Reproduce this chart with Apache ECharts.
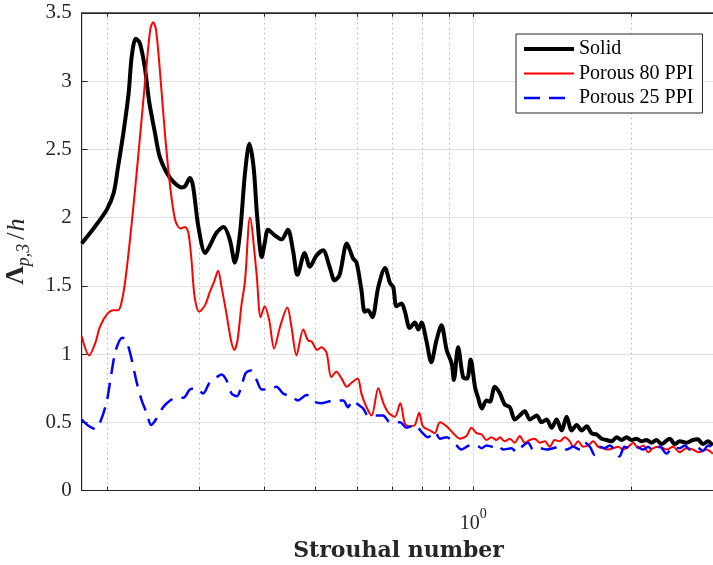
<!DOCTYPE html>
<html><head><meta charset="utf-8">
<script src="https://cdn.jsdelivr.net/npm/echarts@6/dist/echarts.min.js"></script>
<style>html,body{margin:0;padding:0;background:#fff}#c{width:713px;height:565px}</style>
</head><body><div id="c"></div>
<script>
// Strouhal numbers and values
const solidSt = [0.179,0.186,0.192,0.200,0.206,0.210,0.215,0.220,0.223,0.227,
0.231,0.236,0.241,0.247,0.252,0.260,0.268,0.278,0.282,0.288,
0.292,0.299,0.308,0.314,0.324,0.334,0.343,0.351,0.359,0.367,
0.374,0.381,0.387,0.395,0.400,0.406,0.418,0.431,0.443,0.453,
0.462,0.477,0.488,0.502,0.517,0.532,0.544,0.556,0.574,0.590,
0.599,0.612,0.621,0.630,0.642,0.659,0.679,0.694,0.704,0.714,
0.730,0.741,0.757,0.774,0.786,0.797,0.814,0.832,0.851,0.870,
0.890,0.910,0.919,0.936,0.957,0.974,0.989,1.008,1.022,1.039,
1.060,1.076,1.100,1.125,1.149,1.175,1.201,1.227,1.255,1.283,
1.322,1.351,1.381,1.412,1.443,1.475,1.508,1.542,1.576,1.611,
1.647,1.683,1.721,1.759,1.798,1.838,1.879,1.921,1.963,2.006,
2.051,2.096,2.143,2.190,2.238,2.288,2.373,2.425,2.480,2.553,
2.627,2.685,2.745,2.806,2.865];
const solidVal = [1.81,1.89,1.96,2.06,2.18,2.37,2.62,2.91,3.18,3.31,
3.28,3.11,2.84,2.62,2.45,2.33,2.26,2.22,2.23,2.29,
2.23,1.93,1.74,1.79,1.89,1.93,1.84,1.67,1.89,2.33,
2.54,2.37,2.01,1.71,1.81,1.91,1.87,1.84,1.91,1.76,
1.58,1.74,1.64,1.72,1.76,1.64,1.54,1.58,1.81,1.70,
1.67,1.47,1.31,1.32,1.27,1.49,1.63,1.52,1.49,1.35,
1.37,1.31,1.19,1.23,1.18,1.23,1.10,0.94,1.10,1.21,
1.03,0.93,0.81,1.05,0.83,0.82,0.96,0.76,0.68,0.60,
0.66,0.65,0.76,0.71,0.63,0.61,0.52,0.55,0.58,0.52,
0.55,0.50,0.52,0.46,0.52,0.44,0.54,0.44,0.48,0.44,
0.47,0.42,0.41,0.38,0.37,0.36,0.39,0.37,0.39,0.37,
0.38,0.36,0.37,0.35,0.37,0.34,0.38,0.34,0.36,0.35,
0.37,0.375,0.34,0.36,0.33];

const p80St = [0.179,0.185,0.190,0.194,0.200,0.206,0.210,0.213,0.217,0.224,
0.231,0.238,0.242,0.245,0.248,0.252,0.258,0.264,0.270,0.276,
0.282,0.286,0.290,0.294,0.300,0.308,0.314,0.321,0.326,0.331,
0.338,0.345,0.350,0.355,0.361,0.367,0.375,0.386,0.393,0.400,
0.408,0.417,0.428,0.442,0.450,0.460,0.474,0.484,0.492,0.504,
0.513,0.525,0.536,0.548,0.561,0.574,0.586,0.602,0.612,0.626,
0.640,0.659,0.674,0.689,0.709,0.726,0.741,0.757,0.774,0.789,
0.802,0.827,0.845,0.864,0.890,0.916,0.943,0.971,0.993,1.015,
1.038,1.060,1.084,1.108,1.125,1.149,1.175,1.201,1.227,1.255,
1.283,1.310,1.340,1.370,1.400,1.431,1.463,1.496,1.529,1.552,
1.587,1.622,1.658,1.695,1.733,1.771,1.810,1.850,1.892,1.934,
1.977,2.021,2.066,2.112,2.159,2.207,2.272,2.340,2.408,2.480,
2.553,2.627,2.699,2.786,2.868];
const p80Val = [1.13,0.99,1.08,1.20,1.29,1.32,1.32,1.37,1.55,2.03,
2.57,3.11,3.38,3.43,3.38,3.11,2.62,2.23,1.98,1.92,
1.93,1.89,1.69,1.42,1.31,1.36,1.45,1.54,1.61,1.49,
1.30,1.10,1.03,1.10,1.35,1.54,2.00,1.59,1.27,1.35,
1.25,1.04,1.20,1.34,1.20,0.99,1.18,1.10,1.09,1.03,
1.05,1.01,0.83,0.87,0.82,0.76,0.79,0.82,0.71,0.61,
0.55,0.75,0.64,0.57,0.54,0.64,0.49,0.47,0.48,0.57,
0.47,0.44,0.42,0.50,0.47,0.42,0.38,0.40,0.46,0.42,
0.41,0.37,0.39,0.37,0.39,0.36,0.38,0.35,0.40,0.35,
0.37,0.38,0.35,0.36,0.32,0.37,0.36,0.39,0.36,0.32,
0.36,0.32,0.33,0.36,0.32,0.31,0.30,0.31,0.32,0.30,
0.32,0.35,0.31,0.33,0.28,0.31,0.32,0.30,0.32,0.28,
0.31,0.30,0.28,0.30,0.27];

const p25St = [0.179,0.185,0.190,0.195,0.200,0.204,0.208,0.214,0.218,0.223,
0.228,0.233,0.238,0.243,0.248,0.256,0.264,0.272,0.280,0.288,
0.297,0.305,0.314,0.324,0.331,0.338,0.346,0.354,0.361,0.368,
0.377,0.386,0.395,0.406,0.421,0.434,0.450,0.463,0.481,0.499,
0.513,0.528,0.548,0.565,0.577,0.589,0.603,0.617,0.630,0.654,
0.673,0.694,0.725,0.746,0.774,0.797,0.820,0.845,0.864,0.890,
0.916,0.950,0.971,0.986,1.015,1.038,1.060,1.092,1.116,1.141,
1.184,1.210,1.246,1.273,1.302,1.340,1.381,1.421,1.463,1.508,
1.552,1.599,1.634,1.670,1.707,1.744,1.783,1.822,1.862,1.903,
1.945,1.988,2.051,2.111,2.158,2.206,2.272,2.340,2.409,2.480,
2.535,2.591,2.668,2.746,2.809,2.868];
const p25Val = [0.52,0.47,0.45,0.52,0.66,0.86,1.03,1.12,1.09,0.96,
0.79,0.66,0.57,0.48,0.52,0.61,0.66,0.68,0.68,0.74,
0.75,0.71,0.79,0.83,0.85,0.81,0.71,0.69,0.76,0.86,
0.88,0.81,0.74,0.74,0.76,0.71,0.69,0.66,0.70,0.65,
0.64,0.65,0.66,0.66,0.61,0.66,0.63,0.60,0.55,0.55,
0.55,0.50,0.50,0.46,0.48,0.43,0.39,0.43,0.38,0.39,
0.36,0.30,0.32,0.33,0.33,0.31,0.33,0.32,0.33,0.30,
0.31,0.28,0.33,0.35,0.30,0.31,0.30,0.31,0.32,0.30,
0.32,0.30,0.35,0.32,0.26,0.32,0.31,0.33,0.30,0.25,
0.32,0.31,0.32,0.30,0.32,0.29,0.32,0.27,0.32,0.31,
0.33,0.30,0.32,0.29,0.33,0.31];

const seriesNames = ['Solid', 'Porous 80 PPI', 'Porous 25 PPI'];
const xRange = [0.179, 2.9];          // Strouhal number range of the axis
const gridSt = [0.2,0.3,0.4,0.5,0.6,0.7,0.8,0.9,1,2,3]; // log-axis grid positions
const majorSt = [1];                 // labelled decade
const yRange = [0, 3.5];
const yStep = 0.5;

const lg = v => Math.log10(v);
const toPts = (st, val) => st.map((s, i) => [lg(s), val[i]]);
const gridLog = gridSt.map(lg);
const majorLog = majorSt.map(lg);
const ink = '#262626';
const serif = 'Liberation Serif';
const styles = [
  {color: '#000000', width: 4, type: 'solid'},
  {color: '#ff0000', width: 2, type: 'solid'},
  {color: '#0000ff', width: 2.5, type: [16, 9]}
];

const chart = echarts.init(document.getElementById('c'), null, {renderer: 'canvas'});
const baseX = {
  type: 'value', min: lg(xRange[0]), max: lg(xRange[1]), gridIndex: 0
};
chart.setOption({
  animation: false,
  backgroundColor: '#fff',
  grid: {left: 81.7, top: 12.8, width: 633.7, height: 477.7, show: true,
         containLabel: false, outerBoundsMode: 'none',
         borderColor: ink, borderWidth: 1, backgroundColor: 'transparent'},
  legend: {
    data: seriesNames.map((n, i) => ({name: n, lineStyle: {width: styles[i].width, type: styles[i].type, color: styles[i].color}})),
    orient: 'vertical', left: 516, top: 34,
    padding: [5, 9, 5, 6], itemWidth: 50, itemHeight: 14, itemGap: 4.5,
    backgroundColor: '#fff', borderColor: ink, borderWidth: 1,
    itemStyle: {opacity: 0},
    textStyle: {fontFamily: serif, fontSize: 20, color: '#000', lineHeight: 20}
  },
  xAxis: [
    Object.assign({}, baseX, {
      position: 'bottom',
      name: 'Strouhal number', nameLocation: 'middle', nameGap: 50,
      nameTextStyle: {fontFamily: 'DejaVu Serif', fontWeight: 'bold', fontSize: 22, color: ink},
      axisLine: {show: true, onZero: false, lineStyle: {color: ink, width: 1}},
      axisTick: {show: true, inside: true, length: 4, customValues: gridLog, lineStyle: {color: ink}},
      axisLabel: {show: true, customValues: majorLog, margin: 17,
        formatter: () => '{b|10}{s|0}',
        rich: {b: {fontFamily: serif, fontSize: 20, color: ink, lineHeight: 26, verticalAlign: 'bottom'},
               s: {fontFamily: serif, fontSize: 14, color: ink, lineHeight: 26, verticalAlign: 'top'}}},
      splitLine: {show: true, lineStyle: {color: '#b4b4b4', width: 1, type: [1.5, 3.5]}}
    }),
    Object.assign({}, baseX, {
      position: 'bottom',
      axisLine: {show: false, onZero: false}, axisLabel: {show: false},
      axisTick: {show: false, customValues: majorLog},
      splitLine: {show: true, lineStyle: {color: '#e0e0e0', width: 1, type: 'solid'}}
    }),
    Object.assign({}, baseX, {
      position: 'top',
      axisLine: {show: true, onZero: false, lineStyle: {color: ink, width: 1}},
      axisLabel: {show: false},
      axisTick: {show: true, inside: true, length: 4, customValues: gridLog, lineStyle: {color: ink}},
      splitLine: {show: false}
    })
  ],
  yAxis: {
    type: 'value', min: yRange[0], max: yRange[1], interval: yStep,
    name: '{L|Λ}{s|p,3}{n|/}{h|h}', nameLocation: 'middle', nameRotate: 90, nameGap: 48,
    nameTextStyle: {
      rich: {
        L: {fontFamily: serif, fontWeight: 'bold', fontSize: 26, color: ink, lineHeight: 34, verticalAlign: 'middle'},
        s: {fontFamily: serif, fontStyle: 'italic', fontSize: 18, color: ink, lineHeight: 34, verticalAlign: 'bottom', padding: [0, 4, 0, 0]},
        n: {fontFamily: serif, fontSize: 26, color: ink, lineHeight: 34, verticalAlign: 'middle', padding: [0, 1, 0, 0]},
        h: {fontFamily: serif, fontStyle: 'italic', fontSize: 26, color: ink, lineHeight: 34, verticalAlign: 'middle'}
      }
    },
    axisLine: {show: true, onZero: false, lineStyle: {color: ink, width: 1}},
    axisTick: {show: true, inside: true, length: 6, lineStyle: {color: ink}},
    axisLabel: {fontFamily: serif, fontSize: 21, color: ink, margin: 10},
    splitLine: {show: true, lineStyle: {color: '#e0e0e0', width: 1}}
  },
  series: [
    {name: seriesNames[0], type: 'line', xAxisIndex: 0, data: toPts(solidSt, solidVal),
     symbol: 'none', smooth: 0.3, lineStyle: styles[0], itemStyle: {color: styles[0].color}},
    {name: seriesNames[1], type: 'line', xAxisIndex: 0, data: toPts(p80St, p80Val),
     symbol: 'none', smooth: 0.3, lineStyle: styles[1], itemStyle: {color: styles[1].color}},
    {name: seriesNames[2], type: 'line', xAxisIndex: 0, data: toPts(p25St, p25Val),
     symbol: 'none', smooth: 0.3, lineStyle: styles[2], itemStyle: {color: styles[2].color}}
  ]
});
</script></body></html>
